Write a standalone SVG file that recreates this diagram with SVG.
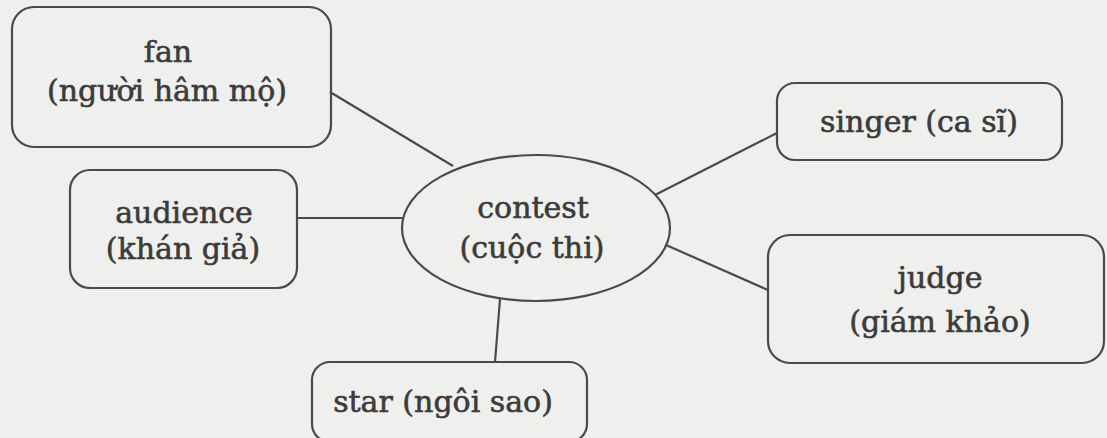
<svg xmlns="http://www.w3.org/2000/svg" width="1107" height="438" viewBox="0 0 1107 438">
  <style>
    .box { fill: none; stroke: #4a4a4a; stroke-width: 2.2; }
    .link { stroke: #4a4a4a; stroke-width: 2.2; fill: none; }
    .lbl { font-family: "DejaVu Serif", "Liberation Serif", serif; font-size: 30px; fill: #3b3b3b; stroke: #3b3b3b; stroke-width: 0.6; text-anchor: middle; }
  </style>
  <rect x="0" y="0" width="1107" height="438" fill="#efefed"/>

  <g id="connectors">
    <line class="link" x1="330" y1="92" x2="453" y2="166"/>
    <line class="link" x1="297" y1="218" x2="403" y2="218"/>
    <line class="link" x1="655" y1="195" x2="777" y2="133"/>
    <line class="link" x1="666" y1="245" x2="768" y2="290"/>
    <line class="link" x1="500" y1="299" x2="495" y2="362"/>
  </g>

  <g id="contest">
    <ellipse class="box" cx="536" cy="228" rx="134" ry="73"/>
    <text class="lbl" x="533" y="218">contest</text>
    <text class="lbl" x="532" y="258">(cuộc thi)</text>
  </g>

  <g id="fan">
    <rect class="box" x="12" y="7" width="319" height="140" rx="22"/>
    <text class="lbl" x="168" y="62">fan</text>
    <text class="lbl" x="167" y="101">(người hâm mộ)</text>
  </g>

  <g id="audience">
    <rect class="box" x="70" y="170" width="227" height="118" rx="20"/>
    <text class="lbl" x="184" y="223">audience</text>
    <text class="lbl" x="183" y="259">(khán giả)</text>
  </g>

  <g id="singer">
    <rect class="box" x="777" y="83" width="285" height="77" rx="18"/>
    <text class="lbl" x="919" y="132">singer (ca sĩ)</text>
  </g>

  <g id="judge">
    <rect class="box" x="768" y="235" width="336" height="128" rx="22"/>
    <text class="lbl" x="940" y="288">judge</text>
    <text class="lbl" x="940" y="332">(giám khảo)</text>
  </g>

  <g id="star">
    <rect class="box" x="312" y="362" width="275" height="80" rx="18"/>
    <text class="lbl" x="443" y="412">star (ngôi sao)</text>
  </g>
</svg>
